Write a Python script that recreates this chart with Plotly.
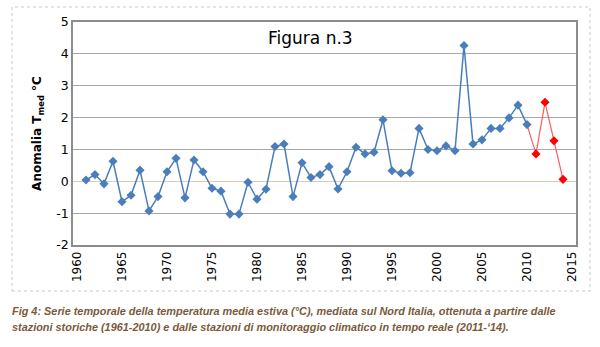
import plotly.graph_objects as go

years_hist = list(range(1961, 2011))
anom_hist = [0.04, 0.21, -0.08, 0.63, -0.64, -0.44, 0.35, -0.93, -0.48, 0.30,
             0.72, -0.52, 0.67, 0.30, -0.22, -0.31, -1.03, -1.03, -0.03, -0.56,
             -0.25, 1.09, 1.17, -0.48, 0.58, 0.12, 0.21, 0.46, -0.24, 0.30,
             1.07, 0.86, 0.91, 1.93, 0.33, 0.25, 0.27, 1.66, 1.00, 0.96,
             1.11, 0.96, 4.26, 1.17, 1.30, 1.66, 1.66, 1.99, 2.39, 1.78]
years_rt = [2010, 2011, 2012, 2013, 2014]
anom_rt = [1.78, 0.86, 2.48, 1.27, 0.06]

xticks = list(range(1960, 2016, 5))
yticks = list(range(-2, 6))
yticklabels = [str(v) for v in yticks]

blue = "#4a7ebb"
red = "#ff0000"

fig = go.Figure()
fig.add_trace(go.Scatter(x=years_rt, y=anom_rt, mode="lines",
                         line=dict(color="#ff5a5a", width=1.2), hoverinfo="skip"))
fig.add_trace(go.Scatter(x=years_rt[1:], y=anom_rt[1:], mode="markers",
                         marker=dict(symbol="diamond", size=7, color=red)))
fig.add_trace(go.Scatter(x=years_hist, y=anom_hist, mode="lines+markers",
                         line=dict(color=blue, width=1.5),
                         marker=dict(symbol="diamond", size=7, color=blue)))

L, R, T, B = 73, 576, 22, 245
W, H = 600, 347
pw, ph = R - L, B - T

def px(x):
    return (x - L) / pw

def py(y):
    return (B - y) / ph

fig.update_layout(
    width=W, height=H,
    margin=dict(l=L, r=W - R, t=T, b=H - B),
    paper_bgcolor="white", plot_bgcolor="white",
    showlegend=False,
    font=dict(family="DejaVu Sans", size=12, color="#000000"),
    xaxis=dict(range=[1960 - 4 / 9, 2015 + 4 / 9], tickvals=xticks,
               tickangle=-90, showgrid=False, showline=True,
               linecolor="#8c8c8c", linewidth=1.5, mirror=True,
               ticks="", zeroline=False,
               tickfont=dict(family="DejaVu Sans", size=12, color="#000")),
    yaxis=dict(range=[-2, 5], tickvals=yticks, ticktext=yticklabels,
               showgrid=True,
               gridcolor="#a8a8a8", gridwidth=1, showline=True,
               linecolor="#8c8c8c", linewidth=1.5, mirror=True,
               zeroline=True, zerolinecolor="#dccbb0", zerolinewidth=1,
               ticks="", ticklen=0,
               tickfont=dict(family="DejaVu Sans", size=12.5, color="#000"),
               title=dict(text="<b>Anomalia T<sub>med</sub> °C</b>",
                          font=dict(family="DejaVu Sans", size=12, color="#000"),
                          standoff=12)),
    shapes=[dict(type="rect", xref="paper", yref="paper",
                 x0=px(12), x1=px(590), y0=py(291), y1=py(7),
                 line=dict(color="#c8c8c8", width=1, dash="dot"),
                 fillcolor="rgba(0,0,0,0)", layer="below")],
    annotations=[
        dict(text="Figura n.3", xref="paper", yref="paper",
             x=px(310), y=py(38), showarrow=False,
             xanchor="center", yanchor="middle",
             font=dict(family="DejaVu Sans", size=17, color="#000")),
        dict(text="<b><i>Fig 4: Serie temporale della temperatura media estiva (°C), mediata sul Nord Italia, ottenuta a partire dalle</i></b>",
             xref="paper", yref="paper", x=px(10), y=py(311), showarrow=False,
             xanchor="left", yanchor="middle",
             font=dict(family="Liberation Sans", size=10.9, color="#7a5a3a")),
        dict(text="<b><i>stazioni storiche (1961-2010) e dalle stazioni di monitoraggio climatico in tempo reale (2011-‘14).</i></b>",
             xref="paper", yref="paper", x=px(10), y=py(327), showarrow=False,
             xanchor="left", yanchor="middle",
             font=dict(family="Liberation Sans", size=10.9, color="#7a5a3a")),
    ],
)

fig.write_html("out.html")
